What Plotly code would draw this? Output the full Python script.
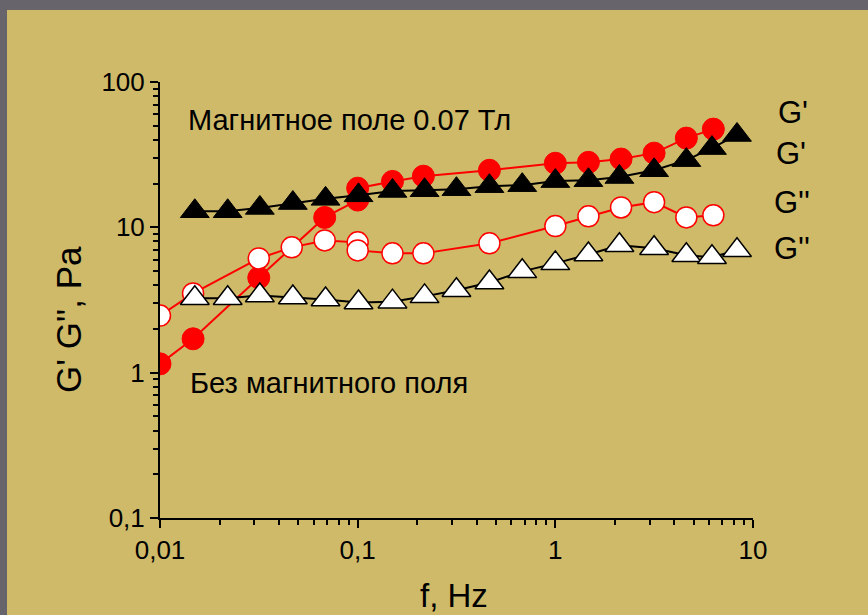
import plotly.graph_objects as go

# ---- data ----
f_red_filled = [0.01, 0.0147, 0.0316, 0.0681, 0.1, 0.1, 0.15, 0.215, 0.464, 1.0, 1.47, 2.15, 3.16, 4.6, 6.3]
g_red_filled = [1.15, 1.71, 4.5, 11.7, 15.4, 18.6, 20.7, 22.5, 24.7, 27.6, 28.0, 29.5, 32.4, 41.1, 47.4]

f_red_open = [0.01, 0.0147, 0.0316, 0.0464, 0.0681, 0.1, 0.1, 0.15, 0.215, 0.464, 1.0, 1.47, 2.15, 3.16, 4.6, 6.3]
g_red_open = [2.47, 3.51, 6.11, 7.28, 8.13, 7.88, 6.94, 6.62, 6.62, 7.76, 10.2, 11.9, 13.7, 14.9, 11.7, 12.1]

f_tri = [0.015, 0.022, 0.032, 0.047, 0.0688, 0.101, 0.15, 0.218, 0.316, 0.464, 0.68, 1.0, 1.47, 2.11, 3.16, 4.6, 6.2, 8.3]
g_tri_filled = [12.9, 12.9, 13.6, 14.7, 15.7, 16.6, 17.8, 18.0, 18.3, 19.2, 19.5, 20.8, 21.1, 22.2, 24.7, 29.0, 35.1, 43.2]
g_tri_open = [3.25, 3.25, 3.40, 3.29, 3.19, 3.04, 3.08, 3.35, 3.69, 4.17, 4.98, 5.65, 6.51, 7.53, 7.18, 6.42, 6.23, 6.95]

x_tickvals = [0.01, 0.1, 1, 10]
x_ticktext = ["0,01", "0,1", "1", "10"]
y_tickvals = [0.1, 1, 10, 100]
y_ticktext = ["0,1", "1", "10", "100"]

TAN = "#CFBA69"
GRAY = "#67646B"
FONT = "Liberation Sans, Arial, sans-serif"

fig = go.Figure()

fig.add_trace(go.Scatter(
    x=f_red_filled, y=g_red_filled, mode="lines+markers",
    line=dict(color="#FF0000", width=2),
    marker=dict(symbol="circle", size=22, color="#FF0000", line=dict(color="#FF0000", width=1))))
fig.add_trace(go.Scatter(
    x=f_red_open, y=g_red_open, mode="lines+markers",
    line=dict(color="#FF0000", width=2),
    marker=dict(symbol="circle", size=21, color="white", line=dict(color="#FF0000", width=1.5))))
fig.add_trace(go.Scatter(
    x=f_tri, y=g_tri_filled, mode="lines+markers",
    line=dict(color="black", width=2),
    marker=dict(symbol="triangle-up", size=25, color="black", line=dict(color="black", width=1))))
fig.add_trace(go.Scatter(
    x=f_tri, y=g_tri_open, mode="lines+markers",
    line=dict(color="black", width=2),
    marker=dict(symbol="triangle-up", size=25, color="white", line=dict(color="black", width=1.5))))

minor_x = [m * d for d in [0.01, 0.1, 1] for m in range(2, 10)]
minor_y = [m * d for d in [0.1, 1, 10] for m in range(2, 10)]

fig.update_xaxes(
    type="log", range=[-2, 1], showgrid=False, zeroline=False,
    showline=True, linecolor="black", linewidth=2,
    ticks="outside", ticklen=8, tickwidth=2, tickcolor="black",
    tickmode="array", tickvals=x_tickvals, ticktext=x_ticktext,
    tickfont=dict(family=FONT, size=26, color="black"),
    minor=dict(ticks="outside", ticklen=5, tickwidth=1.5, tickcolor="black",
               tickmode="array", tickvals=minor_x, showgrid=False),
)
fig.update_yaxes(
    type="log", range=[-1, 2], showgrid=False, zeroline=False,
    showline=True, linecolor="black", linewidth=2,
    ticks="outside", ticklen=8, tickwidth=2, tickcolor="black",
    tickmode="array", tickvals=y_tickvals, ticktext=y_ticktext,
    tickfont=dict(family=FONT, size=26, color="black"),
    minor=dict(ticks="outside", ticklen=5, tickwidth=1.5, tickcolor="black",
               tickmode="array", tickvals=minor_y, showgrid=False),
)

L, R, T, B = 160, 753, 82, 518
W, H = 868, 615
def px(xp):
    return (xp - L) / (R - L)
def py(yp):
    return (B - yp) / (B - T)

annos = [
    dict(text="Магнитное поле 0.07 Тл", x=px(186), y=py(120), xanchor="left", yanchor="middle", size=29),
    dict(text="Без магнитного поля", x=px(188), y=py(383), xanchor="left", yanchor="middle", size=29),
    dict(text="G'", x=px(776), y=py(112), xanchor="left", yanchor="middle", size=31),
    dict(text="G'", x=px(774), y=py(153), xanchor="left", yanchor="middle", size=31),
    dict(text="G''", x=px(772), y=py(203), xanchor="left", yanchor="middle", size=31),
    dict(text="G''", x=px(772), y=py(248), xanchor="left", yanchor="middle", size=31),
    dict(text="f, Hz", x=px(454), y=py(595), xanchor="center", yanchor="middle", size=33),
]
annotations = []
for a in annos:
    annotations.append(dict(text=a["text"], x=a["x"], y=a["y"], xref="paper", yref="paper",
                            xanchor=a["xanchor"], yanchor=a["yanchor"], showarrow=False,
                            font=dict(family=FONT, size=a["size"], color="black")))
annotations.append(dict(text="G' G'', Pa", x=px(68), y=py(320), xref="paper", yref="paper",
                        xanchor="center", yanchor="middle", showarrow=False, textangle=-90,
                        font=dict(family=FONT, size=35, color="black")))

fig.update_layout(
    width=W, height=H,
    margin=dict(l=L, r=W - R, t=T, b=H - B, pad=0),
    paper_bgcolor=GRAY, plot_bgcolor="rgba(0,0,0,0)",
    showlegend=False,
    annotations=annotations,
    shapes=[dict(type="rect", xref="paper", yref="paper", layer="below",
                 x0=px(7), x1=px(880), y0=py(630), y1=py(10),
                 fillcolor=TAN, line=dict(width=0))],
)

fig.write_html("out.html")
